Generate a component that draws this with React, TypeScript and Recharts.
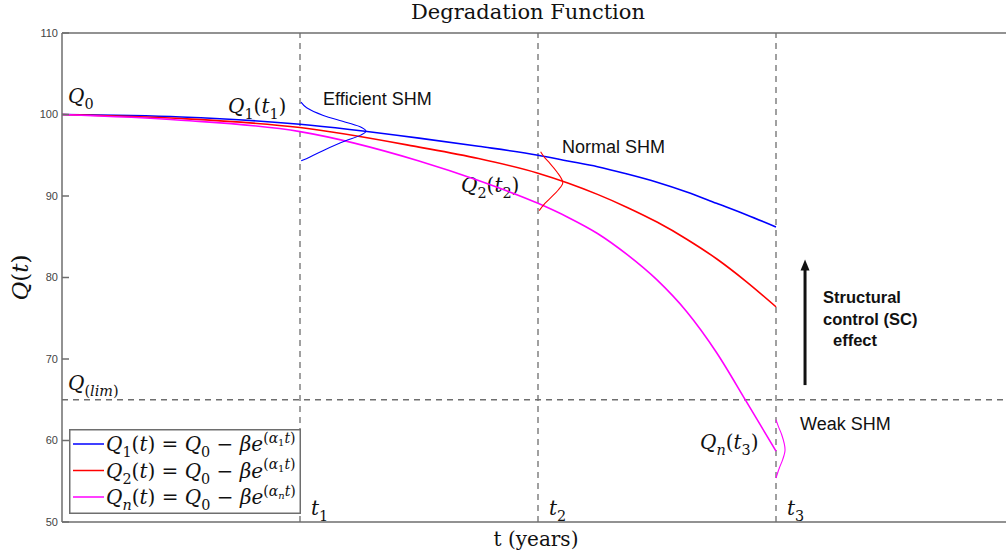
import React from "react";
import { LineChart, Line, XAxis, YAxis, ReferenceLine, Legend, Customized } from "recharts";

// time stamps (t1 = 1, t2 = 2, t3 = 3) and the three degradation curves
const T_MAIN = [0, 0.5, 1, 1.5, 1.75, 2, 2.125, 2.25, 2.375, 2.5, 2.625, 2.75, 2.875, 3];
const Q1_VALUES = [100, 99.7, 98.8, 97.1, 96.1, 95.0, 94.3, 93.6, 92.7, 91.7, 90.5, 89.1, 87.7, 86.2];
const Q2_VALUES = [100, 99.5, 98.4, 96.0, 94.6, 92.8, 91.6, 90.2, 88.6, 86.8, 84.7, 82.3, 79.5, 76.4];
const QN_VALUES = [100, 99.3, 97.9, 94.3, 91.9, 89.1, 87.4, 85.4, 82.8, 79.7, 75.8, 70.8, 64.8, 58.7];

// distribution sketches drawn at t1, t2, t3 (top to bottom)
const BELL1_T = [1.004, 1.028, 1.098, 1.196, 1.259, 1.277, 1.255, 1.189, 1.105, 1.042, 1.005];
const BELL1_Q = [101.52, 100.83, 99.89, 99.03, 98.41, 97.96, 97.47, 96.74, 95.68, 94.8, 94.32];
const BELL2_T = [2.011, 2.025, 2.05, 2.079, 2.104, 2.085, 2.058, 2.029, 2.005];
const BELL2_Q = [95.43, 94.82, 94.01, 92.98, 91.63, 90.74, 89.91, 89.1, 88.2];
const BELL3_T = [3.0, 3.01, 3.024, 3.038, 3.028, 3.014, 3.0];
const BELL3_Q = [62.54, 61.73, 60.71, 58.87, 57.65, 56.63, 55.4];

const Y_TICKS = [50, 60, 70, 80, 90, 100, 110];
const T_MARKS = [1, 2, 3];
const Q_LIM = 65;
const ARROW_T = 3.122;
const ARROW_FROM = 66.8;
const ARROW_TO = 82.2;

const BLUE = "#0000ff";
const RED = "#ff0000";
const MAGENTA = "#ff00ff";
const AXIS = "#6e6e6e";
const SERIF = "'DejaVu Serif', serif";
const SANS = "'Liberation Sans', Arial, sans-serif";

const zip = (ts: number[], qs: number[]) => ts.map((t, i) => ({ t, q: qs[i] }));

const q1Data = zip(T_MAIN, Q1_VALUES);
const q2Data = zip(T_MAIN, Q2_VALUES);
const qnData = zip(T_MAIN, QN_VALUES);
const bell1 = zip(BELL1_T, BELL1_Q);
const bell2 = zip(BELL2_T, BELL2_Q);
const bell3 = zip(BELL3_T, BELL3_Q);

// math text: lv 0 base, 1 sub, 2 sup, 3 sub of sup
type Seg = { s: string; it?: boolean; lv?: number };
const RISE = [0, -0.3, 0.42, 0.26];
const SCALE = [1, 0.72, 0.7, 0.5];
const it = (s: string, lv = 0): Seg => ({ s, it: true, lv });
const up = (s: string, lv = 0): Seg => ({ s, lv });

function MathText({ x, y, size, parts, anchor = "start" }: { x: number; y: number; size: number; parts: Seg[]; anchor?: string }) {
  let prev = 0;
  return (
    <text x={x} y={y} fontFamily={SERIF} fontSize={size} fill="#111" textAnchor={anchor as any}>
      {parts.map((p, i) => {
        const lv = p.lv || 0;
        const r = RISE[lv] * size;
        const dy = prev - r;
        prev = r;
        return (
          <tspan key={i} dy={dy} fontSize={size * SCALE[lv]} fontStyle={p.it ? "italic" : "normal"}>
            {p.s}
          </tspan>
        );
      })}
    </text>
  );
}

const SERIES = [
  { name: "Q1", color: BLUE, parts: [it("Q"), up("1", 1), up("("), it("t"), up(") = "), it("Q"), up("0", 1), up(" − "), it("β"), it("e"), up("(", 2), it("α", 2), up("1", 3), it("t", 2), up(")", 2)] },
  { name: "Q2", color: RED, parts: [it("Q"), up("2", 1), up("("), it("t"), up(") = "), it("Q"), up("0", 1), up(" − "), it("β"), it("e"), up("(", 2), it("α", 2), up("1", 3), it("t", 2), up(")", 2)] },
  { name: "Qn", color: MAGENTA, parts: [it("Q"), it("n", 1), up("("), it("t"), up(") = "), it("Q"), up("0", 1), up(" − "), it("β"), it("e"), up("(", 2), it("α", 2), it("n", 3), it("t", 2), up(")", 2)] },
];

function LegendBox() {
  return (
    <svg width={232} height={85} style={{ display: "block" }}>
      <rect x={0.75} y={0.75} width={230.5} height={83.5} fill="#fff" stroke={AXIS} strokeWidth={1.5} />
      {SERIES.map((s, i) => (
        <g key={s.name}>
          <line x1={4} x2={35} y1={15 + i * 26.5} y2={15 + i * 26.5} stroke={s.color} strokeWidth={1.5} />
          <MathText x={37} y={22 + i * 26.5} size={20} parts={s.parts} />
        </g>
      ))}
    </svg>
  );
}

function Annotations() {
  return (
    <g>
      <text x={528} y={19} textAnchor="middle" fontFamily={SERIF} fontSize={21} fill="#111">Degradation Function</text>
      <text x={536} y={546} textAnchor="middle" fontFamily={SERIF} fontSize={20} fill="#111">t (years)</text>
      <g transform="translate(28 277.5) rotate(-90)">
        <MathText x={0} y={0} size={23} parts={[it("Q"), up("("), it("t"), up(")")]} anchor="middle" />
      </g>
      <MathText x={68} y={103} size={20} parts={[it("Q"), up("0", 1)]} />
      <MathText x={228} y={113} size={20} parts={[it("Q"), up("1", 1), up("("), it("t"), up("1", 1), up(")")]} />
      <MathText x={461} y={192} size={20} parts={[it("Q"), up("2", 1), up("("), it("t"), up("2", 1), up(")")]} />
      <MathText x={700} y={449} size={20} parts={[it("Q"), it("n", 1), up("("), it("t"), up("3", 1), up(")")]} />
      <MathText x={68} y={390} size={20} parts={[it("Q"), up("(", 1), it("lim", 1), up(")", 1)]} />
      <MathText x={311} y={515} size={20} parts={[it("t"), up("1", 1)]} />
      <MathText x={549} y={515} size={20} parts={[it("t"), up("2", 1)]} />
      <MathText x={787} y={515} size={20} parts={[it("t"), up("3", 1)]} />
      <text x={323} y={105} fontFamily={SANS} fontSize={18} fill="#111">Efficient SHM</text>
      <text x={562} y={153} fontFamily={SANS} fontSize={18} fill="#111">Normal SHM</text>
      <text x={800} y={430} fontFamily={SANS} fontSize={18} fill="#111">Weak SHM</text>
      <text fontFamily={SANS} fontSize={16.5} fontWeight="bold" fill="#111">
        <tspan x={823} y={302.5}>Structural</tspan>
        <tspan x={823} y={324.5}>control (SC)</tspan>
        <tspan x={833} y={346}>effect</tspan>
      </text>
    </g>
  );
}

function ArrowShape(props: any) {
  const { x1, y1, x2, y2 } = props;
  return (
    <g>
      <line x1={x1} y1={y1} x2={x2} y2={y2 + 9} stroke="#111" strokeWidth={3} />
      <polygon points={`${x2},${y2} ${x2 - 4.5},${y2 + 11} ${x2 + 4.5},${y2 + 11}`} fill="#111" />
    </g>
  );
}

export default function App() {
  return (
    <div style={{ position: "fixed", left: 0, top: 0, width: 1006, height: 559, overflow: "hidden", background: "#fff" }}>
      <LineChart width={1030} height={559} margin={{ top: 32, right: 15, bottom: 36, left: 0 }}>
        <XAxis xAxisId="top" orientation="top" type="number" domain={[0, 4]} height={1} tick={false} tickLine={false} axisLine={{ stroke: AXIS, strokeWidth: 1.5 }} />
        <XAxis dataKey="t" type="number" domain={[0, 4]} height={1} tick={false} tickLine={false} axisLine={{ stroke: AXIS, strokeWidth: 1.5 }} allowDataOverflow />
        <YAxis
          type="number"
          domain={[50, 110]}
          ticks={Y_TICKS}
          width={62}
          tickSize={-7}
          tickMargin={11}
          tick={{ fill: "#444", fontSize: 11, fontFamily: SANS }}
          tickLine={{ stroke: AXIS, strokeWidth: 1.5 }}
          axisLine={{ stroke: AXIS, strokeWidth: 1.5 }}
          allowDataOverflow
        />
        <YAxis
          yAxisId="right"
          orientation="right"
          type="number"
          domain={[50, 110]}
          ticks={Y_TICKS}
          width={1}
          tickSize={-7}
          tickFormatter={() => ""}
          tickLine={{ stroke: AXIS, strokeWidth: 1.5 }}
          axisLine={{ stroke: AXIS, strokeWidth: 1.5 }}
        />
        {T_MARKS.map((t) => (
          <ReferenceLine key={t} x={t} stroke={AXIS} strokeWidth={1.3} strokeDasharray="6 5" />
        ))}
        <ReferenceLine y={Q_LIM} stroke={AXIS} strokeWidth={1.3} strokeDasharray="6 5" />
        <ReferenceLine
          segment={[{ x: ARROW_T, y: ARROW_FROM }, { x: ARROW_T, y: ARROW_TO }]}
          shape={ArrowShape}
        />
        <Line data={q1Data} dataKey="q" name="Q1" type="monotone" stroke={BLUE} strokeWidth={1.6} dot={false} activeDot={false} isAnimationActive={false} />
        <Line data={q2Data} dataKey="q" name="Q2" type="monotone" stroke={RED} strokeWidth={1.6} dot={false} activeDot={false} isAnimationActive={false} />
        <Line data={qnData} dataKey="q" name="Qn" type="monotone" stroke={MAGENTA} strokeWidth={1.6} dot={false} activeDot={false} isAnimationActive={false} />
        <Line data={bell1} dataKey="q" name="b1" type="monotoneY" stroke={BLUE} strokeWidth={1.1} dot={false} activeDot={false} legendType="none" isAnimationActive={false} />
        <Line data={bell2} dataKey="q" name="b2" type="monotoneY" stroke={RED} strokeWidth={1.1} dot={false} activeDot={false} legendType="none" isAnimationActive={false} />
        <Line data={bell3} dataKey="q" name="b3" type="monotoneY" stroke={MAGENTA} strokeWidth={1.1} dot={false} activeDot={false} legendType="none" isAnimationActive={false} />
        <Legend
          layout="horizontal"
          verticalAlign="middle"
          align="center"
          content={() => <LegendBox />}
          wrapperStyle={{ position: "absolute", left: 69, top: 429, width: 232, height: 85 }}
        />
        <Customized component={Annotations} />
      </LineChart>
    </div>
  );
}
